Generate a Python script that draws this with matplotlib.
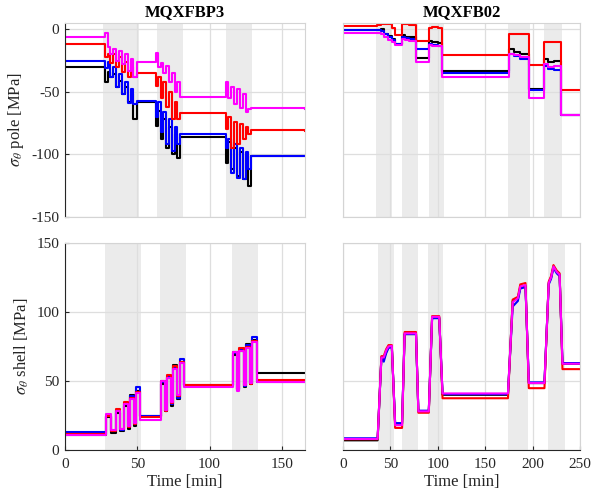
import matplotlib
matplotlib.use("Agg")
import matplotlib.pyplot as plt

plt.rcParams['font.family'] = ['Liberation Serif', 'DejaVu Serif']
plt.rcParams['mathtext.fontset'] = 'stix'
plt.rcParams['axes.unicode_minus'] = False

# ---------------- data ----------------
titles = ["MQXFBP3", "MQXFB02"]
ylabels = [r"$\sigma_\theta$ pole [MPa]", r"$\sigma_\theta$ shell [MPa]"]
xlabel = "Time [min]"
series_colors = ["#000000", "#0000ff", "#ff0000", "#ff00ff"]  # black, blue, red, magenta

# Panel A: MQXFBP3 pole stress
spans_A = [(26.3, 51.1), (63.6, 81.5), (111.5, 129.0)]
tA = [0, 27.5, 29.5, 31, 33.5, 35.5, 37.5, 39.5, 41.5, 43.5, 45.5, 47, 49.5,
      63, 64.5, 66.5, 68, 70, 72, 74, 76, 77.5, 79.5,
      111.5, 113, 115, 117, 119, 121, 123, 125, 126.5, 128.5, 166]
A_black = [-30, -42, -34, -38, -36, -46, -41, -52, -46, -58, -52, -72, -58,
           -77, -65, -88, -72, -95, -78, -100, -84, -103, -86,
           -107, -90, -112, -95, -117, -98, -120, -100, -125, -101, -101]
A_blue = [-25, -31, -26, -38, -30, -46, -36, -52, -42, -59, -48, -60, -57,
          -70, -58, -82, -66, -92, -72, -97, -78, -92, -84,
          -95, -88, -115, -92, -119, -95, -120, -98, -112, -101, -101.5]
A_red = [-12, -22, -20, -27, -20, -30, -22, -34, -26, -38, -30, -38, -35,
         -45, -38, -55, -42, -62, -50, -72, -58, -72, -67,
         -80, -70, -95, -74, -92, -76, -88, -78, -84, -80.5, -81]
A_magenta = [-6, -3, -14, -20, -16, -25, -17, -28, -20, -33, -24, -38, -26,
             -19, -30, -27, -35, -29, -42, -35, -50, -42, -54,
             -42, -55, -46, -60, -48, -63, -52, -66, -64, -63, -64]

# Panel B: MQXFB02 pole stress
spans_B = [(34.8, 51.7), (62.3, 79.2), (90.8, 106.7), (174.0, 197.5), (212.0, 231.0)]
tB = [0, 36, 40, 43, 47, 52, 55, 62, 65, 70, 77, 91, 94, 100, 104,
      175, 180, 187, 196, 212, 216, 223, 230, 250]
B_black = [-0.8, -0.5, 0.0, -3.5, -5.5, -8, -11.4, -4.5, -6.0, -6.5, -22.9, -9.5, -10.5, -11, -33.2,
           -15.5, -18.0, -19.5, -48.1, -23.5, -26.0, -25.0, -68.6, -68.6]
B_blue = [-0.8, -0.8, -1.5, -4.0, -6.0, -8.5, -11.6, -6.5, -7.0, -7.5, -16.0, -12.0, -12.8, -13.0, -34.8,
          -20.0, -21.5, -24.0, -48.5, -29.5, -32.0, -32.7, -68.6, -68.6]
B_red = [2.7, 3.5, 4.5, 4.2, 4.0, 1.0, -4.3, 4.0, 4.2, 3.8, -9.3, 1.3, 1.5, 1.0, -20.5,
         -3.5, -3.5, -4.0, -28.7, -10.0, -10.0, -10.5, -48.7, -48.7]
B_magenta = [-2.7, -2.7, -3.5, -6.5, -8.5, -10, -12.5, -8.0, -8.8, -9.0, -26.1, -12.8, -13.3, -13.5, -38.0,
             -20.0, -20.5, -22.0, -55.3, -28.0, -30.0, -29.5, -68.6, -68.6]

# Panel C: MQXFBP3 shell stress
spans_C = [(27.6, 52.5), (65.6, 83.6), (115.6, 133.5)]
tC = [0, 28.5, 31.5, 35, 38.3, 40.5, 43.5, 45.3, 47.8, 49.2, 52,
      66.5, 69.3, 70.5, 73.3, 75, 77.8, 79.5, 82.5,
      116.5, 119.2, 120.5, 123.8, 125.5, 128.3, 129.5, 132.8, 166]
C_black = [11, 24, 12.5, 27, 13.5, 32, 15.5, 40, 17.5, 43, 24.5,
           48, 28, 52, 32, 61.6, 37, 64, 47,
           69, 43.5, 72, 46, 77, 48, 80, 55.5, 55.5]
C_blue = [12.8, 25, 13.5, 28, 14.5, 33, 16.5, 39, 18.5, 45.5, 24.5,
          49, 28, 53, 33, 60, 38, 66, 46.5,
          70, 44, 72.5, 46.5, 76, 48.5, 82, 49, 49]
C_red = [11.5, 25, 14, 30, 15, 34.5, 17, 38, 19, 42, 24,
         50, 28.5, 54, 34, 61, 39, 64, 47,
         71, 44, 74, 47, 75, 48, 79, 50.7, 50.7]
C_magenta = [11, 26, 14.5, 28, 15.5, 33, 17.5, 37, 19.5, 41.5, 22,
             50, 29, 52, 35, 59, 40, 63, 45.5,
             71, 43, 72, 47, 74, 48.5, 78, 49, 49]

# Panel D: MQXFB02 shell stress
spans_D = [(37.0, 54.0), (62.0, 79.0), (90.0, 106.0), (174.0, 195.0), (216.5, 234.5)]
tD = [0, 36.5, 40.5, 43, 45.5, 48, 51.5, 55, 62.3, 65, 77, 79.5, 90.5, 94, 101.5, 105,
      174, 179, 184.5, 187, 192.5, 196, 212.5, 217, 219.5, 222, 225.5, 228.5, 231.5, 250]
D_black = [7.0, 7.0, 67, 66, 71, 74.5, 75, 19, 19, 84, 84, 28, 28, 96, 96, 40,
           40, 108, 110, 118, 119, 48.5, 48.5, 121, 125, 133, 129, 127, 62.5, 62.5]
D_blue = [8.5, 8.5, 67, 64, 70, 74, 74.5, 19.5, 19.5, 84, 84, 28.5, 28.5, 95.5, 95.5, 40.5,
          40.5, 104, 108, 117, 118, 49, 49, 120, 124, 132, 128, 126, 63, 63]
D_red = [7.8, 7.8, 68, 68, 73, 76, 76, 16, 16, 85.5, 85.5, 27, 27, 97, 97, 37.5,
         37.5, 109, 111, 120, 121, 44.8, 44.8, 122, 126, 134, 130, 128, 58.6, 58.6]
D_magenta = [8, 8, 67, 67, 72, 75, 75.5, 18, 18, 84.5, 84.5, 28, 28, 96.5, 96.5, 41,
             41, 107, 110, 118.5, 119.5, 48.5, 48.5, 121, 125, 133, 129, 127, 62.5, 62.5]

# ---------------- figure ----------------
W, H = 593, 497
fig = plt.figure(figsize=(W / 100, H / 100), dpi=100)


def px_axes(x0, y0, x1, y1):
    return fig.add_axes([x0 / W, 1 - y1 / H, (x1 - x0) / W, (y1 - y0) / H])


axA = px_axes(65, 23, 305, 217)
axB = px_axes(343, 23, 580, 217)
axC = px_axes(65, 243, 305, 450)
axD = px_axes(343, 243, 580, 450)

grid_c = "#dedede"
frame_c = "#d4d4d4"
dark_c = "#262626"
shade_c = "#ebebeb"


def style(ax, spans, xlim, ylim, xticks, yticks, show_x, show_y):
    ax.set_xlim(*xlim)
    ax.set_ylim(*ylim)
    ax.set_xticks(xticks)
    ax.set_yticks(yticks)
    for s in spans:
        ax.axvspan(s[0], s[1], color=shade_c, lw=0, zorder=0.1)
    ax.set_axisbelow(True)
    ax.grid(True, color=grid_c, lw=0.9)
    for sp in ax.spines.values():
        sp.set_color(frame_c)
        sp.set_linewidth(0.8)
    ax.tick_params(direction="in", length=0, labelsize=11, colors=dark_c, pad=4)
    if show_x:
        ax.spines["bottom"].set_color(dark_c)
        ax.tick_params(axis="x", length=3, pad=6)
    else:
        ax.tick_params(axis="x", labelbottom=False)
    if show_y:
        ax.spines["left"].set_color(dark_c)
        ax.tick_params(axis="y", length=3)
    else:
        ax.tick_params(axis="y", labelleft=False)


lw = 1.5
for ax, t, ys, ds in [
    (axA, tA, [A_black, A_blue, A_red, A_magenta], "steps-post"),
    (axB, tB, [B_black, B_blue, B_red, B_magenta], "steps-post"),
    (axC, tC, [C_black, C_blue, C_red, C_magenta], "steps-post"),
    (axD, tD, [D_black, D_blue, D_red, D_magenta], "default"),
]:
    for y, c in zip(ys, series_colors):
        ax.plot(t, y, color=c, lw=lw, drawstyle=ds, zorder=2)

style(axA, spans_A, (0, 166), (-150, 5), [0, 50, 100, 150], [-150, -100, -50, 0], False, True)
style(axB, spans_B, (0, 250), (-150, 5), [0, 50, 100, 150, 200, 250], [-150, -100, -50, 0], False, False)
style(axC, spans_C, (0, 166), (0, 150), [0, 50, 100, 150], [0, 50, 100, 150], True, True)
style(axD, spans_D, (0, 250), (0, 150), [0, 50, 100, 150, 200, 250], [0, 50, 100, 150], True, False)

axA.set_title(titles[0], fontsize=12, fontweight="bold", pad=5)
axB.set_title(titles[1], fontsize=12, fontweight="bold", pad=5)
axA.set_ylabel(ylabels[0], fontsize=12, color=dark_c)
axC.set_ylabel(ylabels[1], fontsize=12, color=dark_c)
axC.set_xlabel(xlabel, fontsize=12, color=dark_c, labelpad=2)
axD.set_xlabel(xlabel, fontsize=12, color=dark_c, labelpad=2)

fig.savefig("out.png", dpi=100)
